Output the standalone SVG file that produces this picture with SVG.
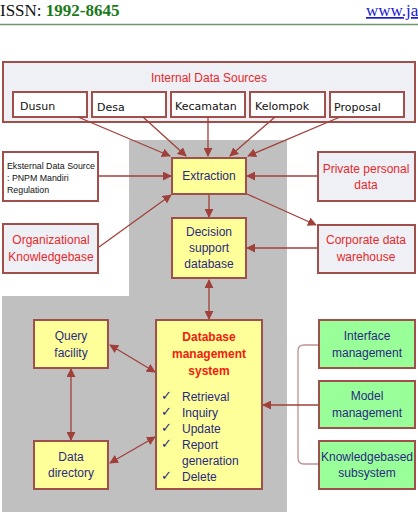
<svg xmlns="http://www.w3.org/2000/svg" width="418" height="516" viewBox="0 0 418 516">
<defs>
<marker id="ah" viewBox="0 0 10 10" refX="9" refY="5" markerWidth="9" markerHeight="9" markerUnits="userSpaceOnUse" orient="auto-start-reverse">
<path d="M0,0 L10,5 L0,10 z" fill="#a0403a"/>
</marker>
<style>
.box{stroke:#a0504a;stroke-width:2}
.src{fill:#eef0f6}
.sub{fill:#ffffff}
.yel{fill:#ffff99}
.grn{fill:#99ff99}
.t{font-family:"Liberation Sans",Arial,sans-serif;font-size:12px;text-anchor:middle}
.red{fill:#e8282a}
.blue{fill:#2a2a80}
.small{font-family:"DejaVu Sans","Liberation Sans",sans-serif;font-size:11px;fill:#111}
.tiny{font-family:"Liberation Sans",Arial,sans-serif;font-size:8.8px;fill:#111}
.c{stroke:#a0403a;stroke-width:1.3;fill:none}
</style>
</defs>
<rect width="418" height="516" fill="#ffffff"/>
<g id="header">
<text x="0" y="16" font-family="Liberation Serif,serif" font-size="17" fill="#111">ISSN: <tspan fill="#1a7a1a" font-weight="bold">1992-8645</tspan></text>
<text x="366" y="16" font-family="Liberation Serif,serif" font-size="17" fill="#1a1ad0" text-decoration="underline">www.ja</text>
<line x1="0" y1="24.5" x2="418" y2="24.5" stroke="#6a9a6a" stroke-width="1.5"/>
</g>
<path id="background" d="M129,140 H287 V512 H2 V296 H129 Z" fill="#c0c0c0"/>
<g id="internal">
<rect class="box src" x="3" y="62" width="412" height="60"/>
<text class="t red" x="209" y="82" font-size="14">Internal Data Sources</text>
</g>
<g id="dusun"><rect class="box sub" x="13" y="92" width="74" height="25"/><text class="small" x="20" y="110">Dusun</text></g>
<g id="desa"><rect class="box sub" x="92" y="92" width="74" height="25"/><text class="small" x="97" y="111">Desa</text></g>
<g id="kecamatan"><rect class="box sub" x="171" y="92" width="74" height="25"/><text class="small" x="175" y="110">Kecamatan</text></g>
<g id="kelompok"><rect class="box sub" x="250" y="92" width="75" height="25"/><text class="small" x="255" y="110">Kelompok</text></g>
<g id="proposal"><rect class="box sub" x="330" y="92" width="74" height="25"/><text class="small" x="334" y="111">Proposal</text></g>
<g id="connectors">
<line class="c" x1="78" y1="117" x2="170" y2="156" marker-end="url(#ah)"/>
<line class="c" x1="143" y1="117" x2="186" y2="156" marker-end="url(#ah)"/>
<line class="c" x1="208" y1="117" x2="208" y2="156" marker-end="url(#ah)"/>
<line class="c" x1="275" y1="117" x2="230" y2="156" marker-end="url(#ah)"/>
<line class="c" x1="340" y1="117" x2="248" y2="156" marker-end="url(#ah)"/>
<line class="c" x1="98" y1="176" x2="171" y2="176" marker-end="url(#ah)"/>
<line class="c" x1="318" y1="176" x2="247" y2="176" marker-end="url(#ah)"/>
<line class="c" x1="99" y1="247" x2="171" y2="195" marker-end="url(#ah)"/>
<line class="c" x1="209" y1="194" x2="209" y2="217" marker-end="url(#ah)"/>
<line class="c" x1="247" y1="194" x2="316" y2="225" marker-end="url(#ah)"/>
<line class="c" x1="318" y1="248" x2="247" y2="248" marker-end="url(#ah)"/>
<line class="c" x1="209" y1="280" x2="209" y2="319" marker-start="url(#ah)" marker-end="url(#ah)"/>
<line class="c" x1="110" y1="345" x2="155" y2="372" marker-start="url(#ah)" marker-end="url(#ah)"/>
<line class="c" x1="71" y1="369" x2="71" y2="440" marker-start="url(#ah)" marker-end="url(#ah)"/>
<line class="c" x1="110" y1="463" x2="155" y2="437" marker-start="url(#ah)" marker-end="url(#ah)"/>
<path d="M319,345 H304 Q298,345 298,351 V458 Q298,464 304,464 H319" stroke="#c09090" stroke-width="1.3" fill="none"/>
<line class="c" x1="319" y1="405" x2="263" y2="405" marker-end="url(#ah)"/>
</g>
<g id="extraction"><rect class="box yel" x="172" y="158" width="74" height="36"/><text class="t blue" x="209" y="180">Extraction</text></g>
<g id="eksternal"><rect class="box sub" x="3" y="152" width="95" height="49"/>
<text class="tiny" x="7" y="169">Eksternal Data Source</text>
<text class="tiny" x="7" y="181">: PNPM Mandiri</text>
<text class="tiny" x="7" y="193">Regulation</text></g>
<g id="private"><rect class="box src" x="318" y="152" width="97" height="49"/>
<text class="t red" x="366" y="173">Private personal</text><text class="t red" x="366" y="189">data</text></g>
<g id="organizational"><rect class="box src" x="3" y="224" width="95" height="49"/>
<text class="t red" x="51" y="244">Organizational</text><text class="t red" x="51" y="261">Knowledgebase</text></g>
<g id="decision"><rect class="box yel" x="172" y="218" width="74" height="60"/>
<text class="t blue" x="209" y="236">Decision</text><text class="t blue" x="209" y="252">support</text><text class="t blue" x="209" y="268">database</text></g>
<g id="corporate"><rect class="box src" x="318" y="225" width="97" height="48"/>
<text class="t red" x="366" y="244">Corporate data</text><text class="t red" x="366" y="261">warehouse</text></g>
<g id="query"><rect class="box yel" x="34" y="320" width="74" height="48"/>
<text class="t blue" x="71" y="340">Query</text><text class="t blue" x="71" y="357">facility</text></g>
<g id="datadir"><rect class="box yel" x="34" y="441" width="74" height="48"/>
<text class="t blue" x="71" y="461">Data</text><text class="t blue" x="71" y="477">directory</text></g>
<g id="dbms"><rect class="box yel" x="156" y="320" width="106" height="169"/>
<text class="t" x="209" y="341" fill="#f02010" font-weight="bold">Database</text>
<text class="t" x="209" y="358" fill="#f02010" font-weight="bold">management</text>
<text class="t" x="209" y="375" fill="#f02010" font-weight="bold">system</text>
<g font-family="DejaVu Sans,sans-serif" font-size="13" fill="#2a2a80">
<text x="161" y="400">✓</text><text x="161" y="416">✓</text><text x="161" y="432">✓</text><text x="161" y="448">✓</text><text x="161" y="480">✓</text>
</g>
<g font-family="Liberation Sans,Arial,sans-serif" font-size="12" fill="#2a2a80">
<text x="182" y="401">Retrieval</text><text x="182" y="417">Inquiry</text><text x="182" y="433">Update</text><text x="182" y="449">Report</text><text x="182" y="465">generation</text><text x="182" y="481">Delete</text>
</g></g>
<g id="interface"><rect class="box grn" x="319" y="320" width="96" height="48"/>
<text class="t blue" x="367" y="340">Interface</text><text class="t blue" x="367" y="357">management</text></g>
<g id="model"><rect class="box grn" x="319" y="381" width="96" height="47"/>
<text class="t blue" x="367" y="400">Model</text><text class="t blue" x="367" y="417">management</text></g>
<g id="knowledge"><rect class="box grn" x="319" y="441" width="96" height="48"/>
<text class="t blue" x="367" y="461">Knowledgebased</text><text class="t blue" x="367" y="477">subsystem</text></g>
</svg>
